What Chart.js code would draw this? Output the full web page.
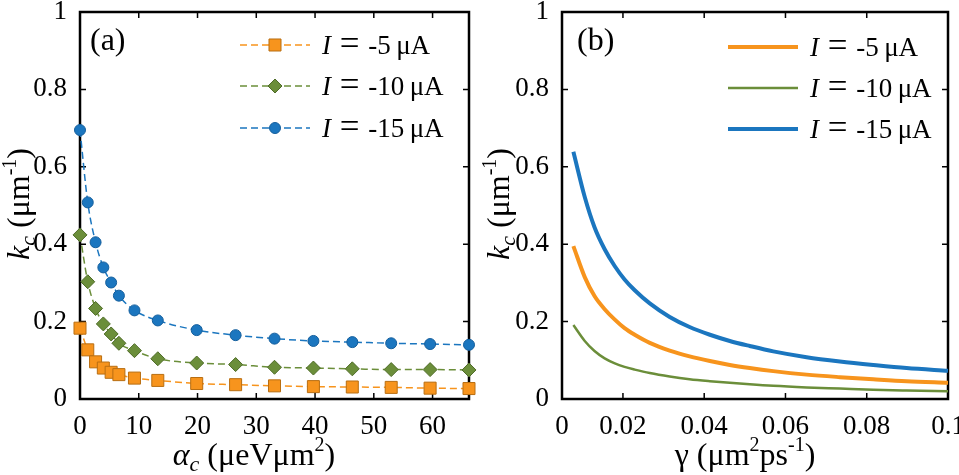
<!DOCTYPE html>
<html>
<head>
<meta charset="utf-8">
<script src="https://cdn.jsdelivr.net/npm/chart.js@4.4.1/dist/chart.umd.min.js"></script>
<style>
  body { margin: 0; background: #fff; font-family: "Liberation Serif", serif; }
  .panel { position: absolute; top: 0; }
  .warm { position: absolute; left: -999px; top: 0; font-family: "Liberation Serif"; }
</style>
</head>
<body>
<span class="warm">0.2 μA <i>I k α</i> γ</span>
<canvas id="chart-a" class="panel" width="480" height="475" style="left:0"></canvas>
<canvas id="chart-b" class="panel" width="479" height="475" style="left:480px"></canvas>
<script>
// panel (a): k_c against alpha_c, markers + dashed line
const alphaC = [0, 1.32, 2.65, 3.97, 5.3, 6.62, 9.27, 13.24, 19.86, 26.48, 33.1, 39.72, 46.34, 52.96, 59.58, 66.2];
const kcA5 = [0.183, 0.127, 0.096, 0.080, 0.069, 0.063, 0.054, 0.048, 0.040, 0.037, 0.034, 0.032, 0.031, 0.030, 0.028, 0.027];
const kcA10 = [0.424, 0.303, 0.234, 0.194, 0.168, 0.144, 0.125, 0.104, 0.093, 0.089, 0.082, 0.080, 0.078, 0.076, 0.076, 0.075];
const kcA15 = [0.695, 0.508, 0.405, 0.340, 0.301, 0.267, 0.229, 0.203, 0.178, 0.165, 0.156, 0.150, 0.147, 0.144, 0.142, 0.140];

// panel (b): k_c against gamma, solid curves
const gammaB = [0.0078, 0.0106, 0.013, 0.0155, 0.018, 0.0204, 0.0229, 0.0266, 0.0315, 0.0364, 0.0414, 0.0463, 0.0512, 0.057, 0.0652, 0.0734, 0.0816, 0.0898, 0.1];
const kcB5 = [0.395, 0.315, 0.266, 0.232, 0.205, 0.183, 0.166, 0.145, 0.125, 0.110, 0.098, 0.088, 0.080, 0.072, 0.063, 0.0565, 0.051, 0.046, 0.042];
const kcB10 = [0.191, 0.150, 0.124, 0.105, 0.092, 0.083, 0.076, 0.067, 0.058, 0.051, 0.046, 0.042, 0.038, 0.034, 0.030, 0.027, 0.024, 0.022, 0.020];
const kcB15 = [0.639, 0.522, 0.444, 0.387, 0.343, 0.309, 0.281, 0.247, 0.212, 0.186, 0.166, 0.150, 0.137, 0.123, 0.108, 0.097, 0.088, 0.080, 0.073];

const currents = ['-5', '-10', '-15'];

const yTicks = [0, 0.2, 0.4, 0.6, 0.8, 1];
const yLabels = ['0', '0.2', '0.4', '0.6', '0.8', '1'];
const xTicksA = [0, 10, 20, 30, 40, 50, 60];
const xLabelsA = ['0', '10', '20', '30', '40', '50', '60'];
const xTicksB = [0.005, 0.02, 0.04, 0.06, 0.08, 0.1];
const xLabelsB = ['0', '0.02', '0.04', '0.06', '0.08', '0.1'];

const FONT = '"Liberation Serif", "Times New Roman", Tinos, "DejaVu Serif", serif';
const ORANGE = '#F7941D';
const GREEN = '#6B8E3A';
const BLUE = '#1B76BF';

const pts = (xs, ys) => xs.map((x, i) => ({ x, y: ys[i] }));

function fontStr(r) {
  return `${r.italic ? 'italic ' : ''}${r.size}px ${FONT}`;
}

// draws a row of text runs (italic / sub / superscript), x is the centre or left edge
function drawRuns(ctx, runs, x, y, align) {
  let total = 0;
  const widths = runs.map((r) => {
    ctx.font = fontStr(r);
    const w = ctx.measureText(r.t).width;
    total += w;
    return w;
  });
  let cx = align === 'left' ? x : x - total / 2;
  ctx.textAlign = 'left';
  ctx.textBaseline = 'alphabetic';
  runs.forEach((r, i) => {
    ctx.font = fontStr(r);
    ctx.fillText(r.t, cx, y + (r.dy || 0));
    cx += widths[i];
  });
}

function drawMarker(ctx, ds, x, y) {
  ctx.save();
  ctx.setLineDash([]);
  ctx.fillStyle = ds.pointBackgroundColor;
  ctx.strokeStyle = ds.pointBorderColor;
  ctx.lineWidth = ds.pointBorderWidth;
  if (Chart.helpers && Chart.helpers.drawPoint) {
    Chart.helpers.drawPoint(ctx, { pointStyle: ds.pointStyle, rotation: 0, radius: ds.pointRadius, borderWidth: ds.pointBorderWidth }, x, y);
  } else {
    ctx.beginPath();
    ctx.arc(x, y, ds.pointRadius, 0, Math.PI * 2);
    ctx.fill();
    ctx.stroke();
  }
  ctx.restore();
}

const framePlugin = {
  id: 'frame',
  beforeDatasetsDraw(chart) {
    const { ctx, chartArea: a, scales } = chart;
    ctx.save();
    ctx.strokeStyle = '#000';
    ctx.lineWidth = 1.5;
    const tl = 6;
    scales.x.ticks.forEach((t) => {
      const px = scales.x.getPixelForValue(t.value);
      ctx.beginPath();
      ctx.moveTo(px, a.bottom); ctx.lineTo(px, a.bottom - tl);
      ctx.moveTo(px, a.top); ctx.lineTo(px, a.top + tl);
      ctx.stroke();
    });
    scales.y.ticks.forEach((t) => {
      const py = scales.y.getPixelForValue(t.value);
      ctx.beginPath();
      ctx.moveTo(a.left, py); ctx.lineTo(a.left + tl, py);
      ctx.moveTo(a.right, py); ctx.lineTo(a.right - tl, py);
      ctx.stroke();
    });
    ctx.lineWidth = 2.5;
    ctx.strokeRect(a.left, a.top, a.right - a.left, a.bottom - a.top);
    ctx.restore();
  },
  afterDraw(chart, args, opts) {
    const { ctx, chartArea: a } = chart;
    ctx.save();
    ctx.fillStyle = '#000';
    // panel tag
    drawRuns(ctx, [{ t: opts.tag, size: 32 }], a.left + opts.tagDx, 50, 'left');
    // x title
    drawRuns(ctx, opts.xTitle, opts.xTitleX, 465);
    // y title, rotated
    ctx.save();
    ctx.translate(29, 204);
    ctx.rotate(-Math.PI / 2);
    drawRuns(ctx, opts.yTitle, 0, 0);
    ctx.restore();
    // legend
    const lg = opts.legend;
    chart.data.datasets.forEach((ds, i) => {
      const y = lg.rows[i];
      ctx.save();
      ctx.strokeStyle = ds.borderColor;
      ctx.lineWidth = ds.borderWidth;
      ctx.setLineDash(ds.borderDash || []);
      ctx.beginPath();
      ctx.moveTo(lg.x0, y);
      ctx.lineTo(lg.x1, y);
      ctx.stroke();
      ctx.restore();
      if (ds.pointRadius > 0) drawMarker(ctx, ds, (lg.x0 + lg.x1) / 2, y);
      ctx.fillStyle = '#000';
      drawRuns(ctx, [
        { t: 'I', italic: true, size: 27 },
        { t: ' = ', size: 35, dy: 1 },
        { t: currents[i] + '\u2009μA', size: 27 }
      ], lg.tx, y + 9, 'left');
    });
    ctx.restore();
  }
};

const kTitle = [
  { t: 'k', italic: true, size: 32 },
  { t: 'c', italic: true, size: 22, dy: 6 },
  { t: ' (μm', size: 32 },
  { t: '-1', size: 20, dy: -13 },
  { t: ')', size: 32 }
];

function buildOptions(cfg) {
  return {
    responsive: false,
    animation: false,
    layout: { padding: { top: 12, right: cfg.padRight, left: 0, bottom: 0 } },
    plugins: {
      legend: { display: false },
      tooltip: { enabled: false },
      frame: cfg.frame
    },
    scales: {
      x: {
        type: 'linear',
        min: cfg.xMin,
        max: cfg.xMax,
        grid: { display: false },
        border: { display: false },
        ticks: {
          font: { size: 27, family: FONT },
          color: '#000',
          padding: 4,
          maxRotation: 0,
          autoSkip: false,
          callback: (v, i) => cfg.xLabels[i]
        },
        afterBuildTicks: (s) => { s.ticks = cfg.xTicks.map((v) => ({ value: v })); },
        afterFit: (s) => { s.height = 76; s.paddingLeft = 0; s.paddingRight = 0; }
      },
      y: {
        type: 'linear',
        min: 0,
        max: 1,
        grid: { display: false },
        border: { display: false },
        ticks: {
          font: { size: 27, family: FONT },
          color: '#000',
          padding: 5,
          autoSkip: false,
          callback: (v, i) => yLabels[i]
        },
        afterBuildTicks: (s) => { s.ticks = yTicks.map((v) => ({ value: v })); },
        afterFit: (s) => { s.width = cfg.yWidth; s.paddingTop = 0; s.paddingBottom = 0; }
      }
    }
  };
}

function markerSet(color, border, style, radius, xs, ys) {
  return {
    data: pts(xs, ys),
    borderColor: color,
    borderWidth: 1.5,
    borderDash: [7, 4],
    pointStyle: style,
    pointRadius: radius,
    pointBackgroundColor: color,
    pointBorderColor: border,
    pointBorderWidth: 1,
    cubicInterpolationMode: 'monotone',
    clip: false
  };
}

function curveSet(color, width, xs, ys) {
  return {
    data: pts(xs, ys),
    borderColor: color,
    borderWidth: width,
    pointRadius: 0,
    cubicInterpolationMode: 'monotone',
    clip: false
  };
}

function drawCharts() {
  Chart.defaults.font.family = FONT;
  Chart.defaults.color = '#000';

  new Chart(document.getElementById('chart-a'), {
    type: 'line',
    data: {
      datasets: [
        markerSet(ORANGE, '#B86E12', 'rect', 8.5, alphaC, kcA5),
        markerSet(GREEN, '#4E6B27', 'rectRot', 7, alphaC, kcA10),
        markerSet(BLUE, '#145E9C', 'circle', 5.5, alphaC, kcA15)
      ]
    },
    options: buildOptions({
      xMin: 0, xMax: 66.2, xTicks: xTicksA, xLabels: xLabelsA, yWidth: 80, padRight: 11,
      frame: {
        tag: '(a)', tagDx: 10,
        xTitleX: 254,
        xTitle: [
          { t: 'α', italic: true, size: 32 },
          { t: 'c', italic: true, size: 22, dy: 6 },
          { t: ' (μeVμm', size: 32 },
          { t: '2', size: 20, dy: -14 },
          { t: ')', size: 32 }
        ],
        yTitle: kTitle,
        legend: { x0: 240, x1: 310, tx: 322, rows: [45, 86, 128] }
      }
    }),
    plugins: [framePlugin]
  });

  new Chart(document.getElementById('chart-b'), {
    type: 'line',
    data: {
      datasets: [
        curveSet(ORANGE, 4, gammaB, kcB5),
        curveSet(GREEN, 2.5, gammaB, kcB10),
        curveSet(BLUE, 4, gammaB, kcB15)
      ]
    },
    options: buildOptions({
      xMin: 0.005, xMax: 0.1, xTicks: xTicksB, xLabels: xLabelsB, yWidth: 82, padRight: 11,
      frame: {
        tag: '(b)', tagDx: 15,
        xTitleX: 265,
        xTitle: [
          { t: 'γ (μm', size: 32 },
          { t: '2', size: 20, dy: -14 },
          { t: 'ps', size: 32 },
          { t: '-1', size: 20, dy: -14 },
          { t: ')', size: 32 }
        ],
        yTitle: kTitle,
        legend: { x0: 248, x1: 318, tx: 330, rows: [47, 88, 129] }
      }
    }),
    plugins: [framePlugin]
  });
}

// make sure the serif face is ready before the canvas uses it
Promise.all([
  document.fonts.load('27px "Liberation Serif"'),
  document.fonts.load('italic 27px "Liberation Serif"')
]).then(drawCharts, drawCharts);
</script>
</body>
</html>
